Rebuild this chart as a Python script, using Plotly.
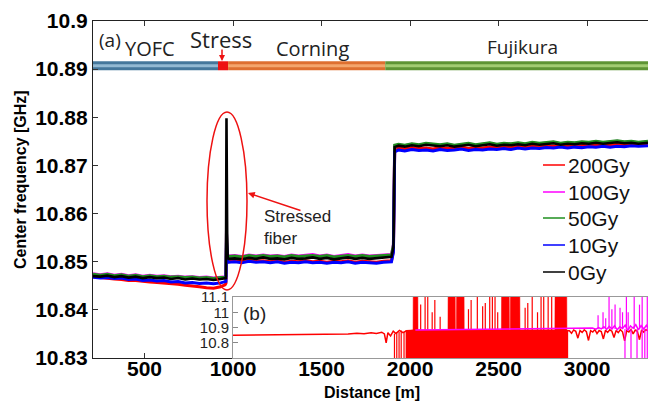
import plotly.graph_objects as go

# ---------------- main panel (a) data ----------------
dist = [209, 250, 290, 330, 370, 410, 450, 490, 530, 570, 610, 650, 690, 730, 770, 810, 850, 890, 930, 955,
        960, 963, 965, 967, 970, 975,
        1010, 1050, 1090, 1130, 1170, 1210, 1250, 1290, 1330, 1370, 1410, 1450, 1490, 1530, 1570, 1610,
        1650, 1690, 1730, 1770, 1810, 1850, 1895,
        1906, 1913,
        1935, 1970, 2010, 2050, 2090, 2130, 2170, 2210, 2250, 2290, 2330, 2370, 2410, 2450, 2490, 2530,
        2570, 2610, 2650, 2690, 2730, 2770, 2810, 2850, 2890, 2930, 2970, 3010, 3050, 3090, 3130, 3170,
        3210, 3250, 3290, 3344]

f_200 = [10.8469, 10.8467, 10.8466, 10.8464, 10.8463, 10.8461, 10.8461, 10.8459, 10.8458, 10.8457,
         10.8456, 10.8454, 10.8453, 10.8451, 10.8450, 10.8448, 10.8446, 10.8445, 10.8448, 10.8452,
         10.8455, 10.8530, 10.8510, 10.8500, 10.8499, 10.8500,
         10.8502, 10.8500, 10.8503, 10.8501, 10.8502, 10.8500, 10.8502, 10.8499, 10.8501, 10.8500,
         10.8502, 10.8500, 10.8501, 10.8499, 10.8501, 10.8500, 10.8502, 10.8499, 10.8501, 10.8500,
         10.8499, 10.8501, 10.8502,
         10.8522, 10.8730,
         10.8736, 10.8734, 10.8737, 10.8735, 10.8736, 10.8734, 10.8737, 10.8735, 10.8736, 10.8738,
         10.8735, 10.8737, 10.8736, 10.8738, 10.8737, 10.8739, 10.8737, 10.8740, 10.8738, 10.8740,
         10.8739, 10.8741, 10.8740, 10.8742, 10.8740, 10.8742, 10.8741, 10.8743, 10.8742, 10.8744,
         10.8742, 10.8744, 10.8743, 10.8745, 10.8744, 10.8745]

f_100 = [10.8475, 10.8473, 10.8475, 10.8472, 10.8474, 10.8471, 10.8473, 10.8470, 10.8472, 10.8470,
         10.8471, 10.8469, 10.8470, 10.8468, 10.8469, 10.8467, 10.8468, 10.8466, 10.8468, 10.8469,
         10.8471, 10.8565, 10.8535, 10.8518, 10.8513, 10.8512,
         10.8513, 10.8511, 10.8514, 10.8512, 10.8514, 10.8512, 10.8513, 10.8511, 10.8514, 10.8512,
         10.8513, 10.8515, 10.8512, 10.8514, 10.8511, 10.8513, 10.8515, 10.8512, 10.8514, 10.8512,
         10.8513, 10.8514, 10.8515,
         10.8536, 10.8740,
         10.8743, 10.8741, 10.8744, 10.8742, 10.8745, 10.8743, 10.8742, 10.8744, 10.8741, 10.8743,
         10.8745, 10.8742, 10.8744, 10.8746, 10.8743, 10.8745, 10.8744, 10.8746, 10.8744, 10.8747,
         10.8745, 10.8746, 10.8748, 10.8745, 10.8747, 10.8746, 10.8748, 10.8747, 10.8749, 10.8747,
         10.8748, 10.8750, 10.8748, 10.8749, 10.8747, 10.8749]

f_50 = [10.8474, 10.8472, 10.8474, 10.8471, 10.8473, 10.8470, 10.8472, 10.8469, 10.8471, 10.8469,
        10.8470, 10.8468, 10.8469, 10.8467, 10.8468, 10.8466, 10.8467, 10.8465, 10.8467, 10.8468,
        10.8470, 10.8560, 10.8530, 10.8515, 10.8512, 10.8511,
        10.8512, 10.8510, 10.8513, 10.8511, 10.8513, 10.8511, 10.8512, 10.8510, 10.8513, 10.8511,
        10.8512, 10.8513, 10.8511, 10.8513, 10.8510, 10.8512, 10.8513, 10.8511, 10.8513, 10.8511,
        10.8512, 10.8513, 10.8514,
        10.8535, 10.8742,
        10.8744, 10.8742, 10.8745, 10.8743, 10.8746, 10.8744, 10.8743, 10.8745, 10.8742, 10.8744,
        10.8746, 10.8743, 10.8745, 10.8747, 10.8744, 10.8746, 10.8745, 10.8747, 10.8745, 10.8748,
        10.8746, 10.8747, 10.8749, 10.8746, 10.8748, 10.8747, 10.8749, 10.8748, 10.8750, 10.8748,
        10.8749, 10.8751, 10.8749, 10.8750, 10.8748, 10.8750]

f_10 = [10.8468, 10.8466, 10.8467, 10.8465, 10.8466, 10.8463, 10.8464, 10.8461, 10.8462, 10.8460,
        10.8461, 10.8458, 10.8459, 10.8456, 10.8457, 10.8455, 10.8456, 10.8454, 10.8456, 10.8458,
        10.8459, 10.8540, 10.8520, 10.8502, 10.8500, 10.8499,
        10.8500, 10.8498, 10.8501, 10.8499, 10.8500, 10.8498, 10.8500, 10.8497, 10.8499, 10.8498,
        10.8500, 10.8498, 10.8499, 10.8497, 10.8499, 10.8498, 10.8500, 10.8497, 10.8499, 10.8498,
        10.8497, 10.8499, 10.8500,
        10.8520, 10.8728,
        10.8732, 10.8730, 10.8733, 10.8731, 10.8732, 10.8730, 10.8733, 10.8731, 10.8732, 10.8734,
        10.8731, 10.8733, 10.8732, 10.8734, 10.8733, 10.8735, 10.8733, 10.8736, 10.8734, 10.8736,
        10.8735, 10.8737, 10.8736, 10.8738, 10.8736, 10.8738, 10.8737, 10.8739, 10.8738, 10.8740,
        10.8738, 10.8740, 10.8739, 10.8741, 10.8740, 10.8741]

f_0 = [10.8470, 10.8469, 10.8471, 10.8468, 10.8470, 10.8467, 10.8469, 10.8466, 10.8468, 10.8466,
       10.8467, 10.8464, 10.8466, 10.8463, 10.8465, 10.8463, 10.8464, 10.8462, 10.8464, 10.8465,
       10.8466, 10.8798, 10.8572, 10.8558, 10.8509, 10.8506,
       10.8507, 10.8505, 10.8508, 10.8506, 10.8509, 10.8506, 10.8507, 10.8505, 10.8508, 10.8506,
       10.8507, 10.8509, 10.8506, 10.8508, 10.8505, 10.8507, 10.8509, 10.8506, 10.8508, 10.8506,
       10.8507, 10.8509, 10.8510,
       10.8530, 10.8738,
       10.8741, 10.8739, 10.8742, 10.8740, 10.8743, 10.8741, 10.8740, 10.8742, 10.8739, 10.8741,
       10.8743, 10.8740, 10.8742, 10.8744, 10.8741, 10.8743, 10.8742, 10.8744, 10.8742, 10.8745,
       10.8743, 10.8744, 10.8746, 10.8743, 10.8745, 10.8744, 10.8746, 10.8745, 10.8747, 10.8745,
       10.8746, 10.8748, 10.8746, 10.8747, 10.8745, 10.8747]

series_names = ["200Gy", "100Gy", "50Gy", "10Gy", "0Gy"]
series_colors = ["#ff0000", "#ff00ff", "#1f8f1f", "#0000ff", "#000000"]
series_values = [f_200, f_100, f_50, f_10, f_0]

y_tickvals = [10.83, 10.84, 10.85, 10.86, 10.87, 10.88, 10.89, 10.90]
y_ticktext = ["10.83", "10.84", "10.85", "10.86", "10.87", "10.88", "10.89", "10.9"]
x_tickvals = [500, 1000, 1500, 2000, 2500, 3000]

# fiber schematic bar
fiber_names = ["YOFC", "Stress", "Corning", "Fujikura"]
fiber_start = [209, 915, 972, 1860]
fiber_end = [915, 972, 1860, 3344]
fiber_level = 10.8907
fiber_dark = ["#45779b", "#ee1111", "#de7030", "#5e9434"]
fiber_light = ["#93b9d2", "#ee1111", "#f4a66c", "#a2cc72"]

# ---------------- inset (b) data ----------------
ins_red_x = [1000, 1100, 1200, 1300, 1400, 1500, 1550, 1600, 1650, 1700, 1740, 1780, 1810, 1840, 1855,
             1865, 1875, 1890, 1905, 1920, 1940, 1960, 1980,
             2900, 2912, 2924, 2936, 2948, 2960, 2972, 2984, 2996, 3008, 3020, 3032, 3044, 3056, 3068,
             3080, 3092, 3104, 3116, 3128, 3140, 3152, 3164, 3176, 3188, 3200, 3212, 3224, 3236, 3248,
             3260, 3272, 3284, 3296, 3308, 3320, 3332, 3344]
ins_red_y = [10.850, 10.851, 10.851, 10.852, 10.854, 10.856, 10.855, 10.859, 10.857, 10.862, 10.859,
             10.866, 10.861, 10.869, 10.858, 10.800, 10.866, 10.845, 10.876, 10.860, 10.881, 10.866, 10.878,
             10.878, 10.862, 10.884, 10.875, 10.830, 10.880, 10.868, 10.885, 10.872, 10.815, 10.879,
             10.870, 10.886, 10.860, 10.880, 10.874, 10.825, 10.882, 10.868, 10.885, 10.876, 10.835,
             10.881, 10.866, 10.886, 10.872, 10.812, 10.880, 10.870, 10.887, 10.858, 10.883, 10.875,
             10.820, 10.884, 10.870, 10.886, 10.878]

# dense noisy region of the 200Gy inset trace (upper envelope)
red_band_x = [1975, 2017, 2018, 2044, 2045, 2214, 2215, 2255, 2256, 2262, 2263, 2305, 2306, 2516, 2517,
              2560, 2561, 2566, 2567, 2620, 2621, 2818, 2819, 2885, 2886, 2893]
red_band_top = [10.880, 10.885, 11.15, 11.15, 10.885, 10.880, 11.15, 11.15, 10.880, 10.880, 11.15, 11.15,
                10.885, 10.885, 11.15, 11.15, 10.880, 10.880, 11.15, 11.15, 10.885, 10.885, 11.15, 11.15,
                10.880, 10.880]

red_spk_x = [1912, 1925, 1938, 1950, 1966, 2060, 2085, 2100, 2125, 2140, 2170, 2330, 2345, 2380, 2410,
             2425, 2450, 2465, 2480, 2495, 2650, 2665, 2690, 2720, 2740, 2755, 2780, 2800]
red_spk_lo = [10.65, 10.65, 10.70, 10.65, 10.66, 10.88, 10.88, 10.88, 10.88, 10.88, 10.88, 10.88, 10.88,
              10.88, 10.88, 10.88, 10.88, 10.88, 10.88, 10.88, 10.88, 10.88, 10.88, 10.88, 10.88, 10.88,
              10.88, 10.88]
red_spk_hi = [10.86, 10.87, 10.87, 10.88, 10.87, 11.05, 11.15, 11.15, 11.00, 11.08, 10.97, 11.02, 11.08,
              11.15, 11.04, 11.06, 11.15, 11.12, 11.15, 11.00, 11.03, 11.06, 11.15, 11.00, 11.15, 11.15,
              11.15, 11.10]

ins_mag_x = [2030, 2100, 2200, 2300, 2400, 2500, 2600, 2700, 2800, 2900, 2960, 3000, 3030, 3050, 3065,
             3080, 3095, 3110, 3125, 3140, 3155, 3170, 3185, 3200, 3215, 3230, 3245, 3260, 3275, 3290,
             3305, 3320, 3335, 3344]
ins_mag_y = [10.884, 10.885, 10.886, 10.886, 10.888, 10.888, 10.889, 10.890, 10.891, 10.892, 10.893,
             10.893, 10.896, 10.889, 10.900, 10.891, 10.905, 10.887, 10.908, 10.890, 10.912, 10.885,
             10.905, 10.893, 10.915, 10.880, 10.910, 10.895, 10.918, 10.884, 10.912, 10.890, 10.915, 10.900]
mag_spk_x = [3062, 3090, 3105, 3124, 3140, 3158, 3186, 3200, 3214, 3222, 3232, 3248, 3266, 3282, 3296,
             3311, 3326, 3340]
mag_spk_lo = [10.89, 10.89, 10.89, 10.89, 10.89, 10.89, 10.89, 10.89, 10.65, 10.89, 10.89, 10.65, 10.89,
              10.65, 10.89, 10.65, 10.70, 10.65]
mag_spk_hi = [10.98, 11.00, 10.96, 11.15, 11.02, 11.05, 11.03, 11.00, 10.89, 11.15, 11.00, 10.89, 11.15,
              10.89, 11.05, 11.15, 10.89, 11.15]

ins_tickvals = [10.8, 10.9, 11.0, 11.1]
ins_ticktext = ["10.8", "10.9", "11", "11.1"]


def spikes(xs, lo, hi):
    px_, py_ = [], []
    for x, a, b in zip(xs, lo, hi):
        px_ += [x, x, None]
        py_ += [a, b, None]
    return px_, py_


fig = go.Figure()

# fiber bar
for s, e, dk, lt in zip(fiber_start, fiber_end, fiber_dark, fiber_light):
    fig.add_trace(go.Scatter(x=[s, e], y=[fiber_level, fiber_level], mode="lines",
                             line=dict(color=dk, width=9), showlegend=False, hoverinfo="skip"))
    fig.add_trace(go.Scatter(x=[s, e], y=[fiber_level, fiber_level], mode="lines",
                             line=dict(color=lt, width=3), showlegend=False, hoverinfo="skip"))

# main traces
for name, col, vals in zip(series_names, series_colors, series_values):
    fig.add_trace(go.Scatter(x=dist, y=vals, mode="lines", name=name,
                             line=dict(color=col, width=3 if name != "0Gy" else 2.6), showlegend=False))

# inset traces
fig.add_trace(go.Scatter(x=red_band_x, y=red_band_top, mode="lines", fill="tozeroy",
                         fillcolor="#ff0000", line=dict(color="#ff0000", width=0.5),
                         xaxis="x2", yaxis="y2", showlegend=False))
fig.add_trace(go.Scatter(x=ins_red_x, y=ins_red_y, mode="lines", line=dict(color="#ff0000", width=1.5),
                         xaxis="x2", yaxis="y2", showlegend=False))
sx, sy = spikes(red_spk_x, red_spk_lo, red_spk_hi)
fig.add_trace(go.Scatter(x=sx, y=sy, mode="lines", line=dict(color="#ff0000", width=1.2),
                         xaxis="x2", yaxis="y2", showlegend=False))
fig.add_trace(go.Scatter(x=ins_mag_x, y=ins_mag_y, mode="lines", line=dict(color="#ff00ff", width=1.5),
                         xaxis="x2", yaxis="y2", showlegend=False))
mx, my = spikes(mag_spk_x, mag_spk_lo, mag_spk_hi)
fig.add_trace(go.Scatter(x=mx, y=my, mode="lines", line=dict(color="#ff00ff", width=1.2),
                         xaxis="x2", yaxis="y2", showlegend=False))

L, T, B, W, H = 93, 21, 43, 648, 401
PW, PH = W - L, H - T - B


def px(x):
    return (x - L) / PW


def py(y):
    return (H - B - y) / PH


tick_font = dict(family="Liberation Sans, Arial", size=21, color="black", weight="bold")
label_font = dict(family="Open Sans", size=19, color="#222")

annotations = [
    dict(text="(a)", x=px(97), y=py(40), xanchor="left", yanchor="middle", font=label_font),
    dict(text="YOFC", x=px(150), y=py(48), xanchor="center", yanchor="middle",
         font=dict(family="Open Sans", size=20, color="#222")),
    dict(text="Stress", x=px(221), y=py(39), xanchor="center", yanchor="middle",
         font=dict(family="Open Sans", size=22, color="#222")),
    dict(text="Corning", x=px(312), y=py(49), xanchor="center", yanchor="middle",
         font=dict(family="Open Sans", size=20, color="#222")),
    dict(text="Fujikura", x=px(522), y=py(47), xanchor="center", yanchor="middle", font=label_font),
    dict(text="Stressed<br>fiber", x=px(262), y=py(227), xanchor="left", yanchor="middle", align="left",
         font=dict(family="Liberation Sans, Arial", size=17, color="#222")),
    dict(text="(b)", x=px(241), y=py(313), xanchor="left", yanchor="middle",
         font=dict(family="Liberation Sans, Arial", size=19, color="#222")),
    dict(text="Center frequency [GHz]", x=px(20), y=py(180), textangle=-90, xanchor="center",
         yanchor="middle", font=dict(family="Liberation Sans, Arial", size=16, color="black", weight="bold")),
    dict(text="Distance [m]", x=px(372), y=py(392), xanchor="center", yanchor="middle",
         font=dict(family="Liberation Sans, Arial", size=16, color="black", weight="bold")),
    # arrows
    dict(text="", x=px(222), y=py(61), ax=0, ay=-13, showarrow=True, arrowhead=2, arrowsize=0.8,
         arrowwidth=1.5, arrowcolor="#ee1111"),
    dict(text="", x=px(248), y=py(193), ax=54, ay=18, showarrow=True, arrowhead=2, arrowsize=0.9,
         arrowwidth=1.5, arrowcolor="#ee1111"),
]
for a in annotations:
    a.setdefault("xref", "paper")
    a.setdefault("yref", "paper")
    a.setdefault("showarrow", False)
    if a.get("showarrow"):
        a["axref"] = "pixel"
        a["ayref"] = "pixel"

shapes = [
    dict(type="circle", xref="paper", yref="paper", x0=px(207), x1=px(247), y0=py(290), y1=py(112),
         line=dict(color="#ee1111", width=1.5)),
]

leg_y = [165, 192, 218, 245, 272]
for name, col, yy in zip(series_names, series_colors, leg_y):
    shapes.append(dict(type="line", xref="paper", yref="paper", x0=px(543), x1=px(565), y0=py(yy), y1=py(yy),
                       line=dict(color=col, width=1.5)))
    annotations.append(dict(text=name, xref="paper", yref="paper", x=px(566), y=py(yy), xanchor="left",
                            yanchor="middle", showarrow=False,
                            font=dict(family="Liberation Sans, Arial", size=21, color="#111")))

fig.update_layout(
    width=W, height=H,
    margin=dict(l=L, r=0, t=T, b=B),
    paper_bgcolor="white", plot_bgcolor="white",
    showlegend=False,
    xaxis=dict(range=[209, 3344], domain=[0, 1], tickvals=x_tickvals, ticks="inside", ticklen=5,
               tickcolor="#333", showline=True, linecolor="#222", linewidth=1.2, mirror="ticks",
               showgrid=False, zeroline=False, tickfont=tick_font, ticklabelstandoff=-8),
    yaxis=dict(range=[10.83, 10.9], domain=[0, 1], tickvals=y_tickvals, ticktext=y_ticktext,
               ticks="inside", ticklen=5, tickcolor="#333", showline=True, linecolor="#222", linewidth=1.2,
               showgrid=False, zeroline=False, tickfont=tick_font),
    xaxis2=dict(range=[1000, 3344], domain=[px(233), 1], anchor="y2", showticklabels=False, ticks="",
                showline=True, linecolor="#999", mirror=True, showgrid=False, zeroline=False),
    yaxis2=dict(range=[10.7, 11.1], domain=[0, py(297)], anchor="x2", tickvals=ins_tickvals,
                ticktext=ins_ticktext, ticks="inside", ticklen=5, tickcolor="#888", showline=True,
                linecolor="#999", showgrid=False, zeroline=False,
                tickfont=dict(family="Liberation Sans, Arial", size=15, color="#222")),
    annotations=annotations,
    shapes=shapes,
)

fig.write_html("out.html")
